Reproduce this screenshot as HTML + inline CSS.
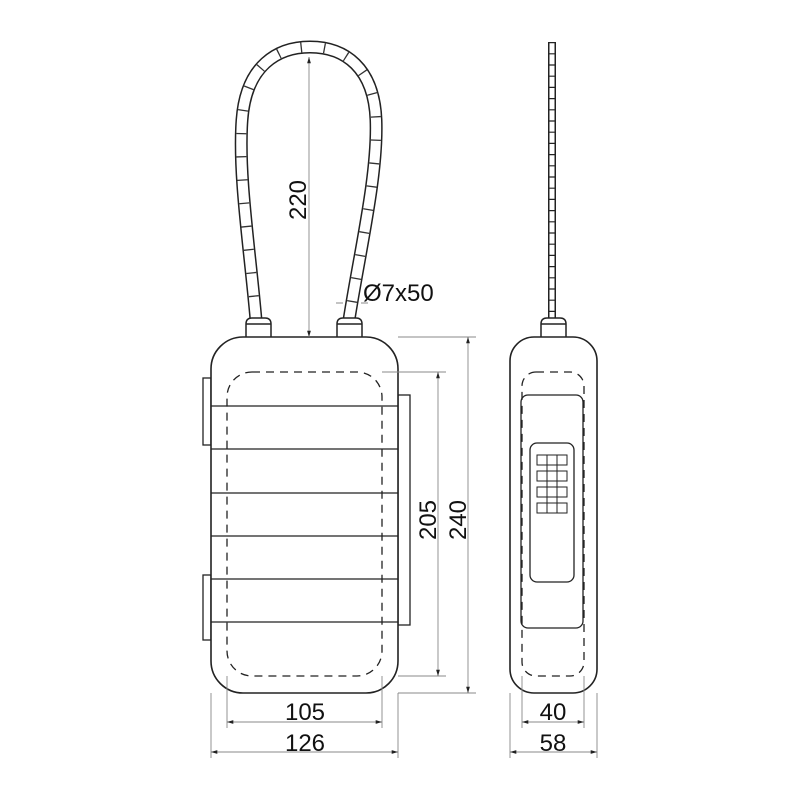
<!DOCTYPE html><html><head><style>body{margin:0;background:#fff}svg{display:block}text{font-family:"Liberation Sans",sans-serif;font-size:24px;fill:#111}</style></head><body>
<svg width="800" height="800" viewBox="0 0 800 800" xmlns="http://www.w3.org/2000/svg">
<defs><marker id="a" viewBox="0 0 10 10" refX="10" refY="5" markerWidth="7" markerHeight="7" orient="auto-start-reverse"><path d="M0,2 L10,5 L0,8z" fill="#222"/></marker></defs>
<g fill="none" stroke="#222">
<path d="M256,320 C250,250 238,175 242,120 C246,65 278,47 310,47 C345,47 374,68 376,120 C378,175 360,250 349,320" stroke-width="13"/>
<path d="M256,320 C250,250 238,175 242,120 C246,65 278,47 310,47 C345,47 374,68 376,120 C378,175 360,250 349,320" stroke="#fff" stroke-width="10"/>
<path d="M256,320 C250,250 238,175 242,120 C246,65 278,47 310,47 C345,47 374,68 376,120 C378,175 360,250 349,320" stroke-width="10" stroke-dasharray="1.3 22" stroke="#333"/>
<path d="M246,337 V324 Q246,318 252,318 H265 Q271,318 271,324 V337 M246,324 H271" stroke-width="1.5" fill="#fff"/>
<path d="M337,337 V324 Q337,318 343,318 H356 Q362,318 362,324 V337 M337,324 H362" stroke-width="1.5" fill="#fff"/>
<rect x="203" y="378" width="8" height="67" stroke-width="1.3"/>
<rect x="203" y="575" width="8" height="65" stroke-width="1.3"/>
<rect x="398" y="395" width="12" height="230" stroke-width="1.3"/>
<rect x="211" y="337" width="187" height="356" rx="32" stroke-width="1.6" fill="#fff"/>
<rect x="227" y="372" width="155" height="304" rx="25" stroke-width="1.3" stroke-dasharray="8 6"/>
<path d="M211,406 H398 M211,449 H398 M211,493 H398 M211,536 H398 M211,579 H398 M211,622 H398" stroke-width="1.3"/>
<path d="M552,42 V318" stroke-width="8"/>
<path d="M552,42 V318" stroke="#fff" stroke-width="5"/>
<path d="M552,42 V318" stroke-width="5" stroke-dasharray="1.2 10"/>
<path d="M541,337 V324 Q541,318 547,318 H560 Q566,318 566,324 V337 M541,324 H566" stroke-width="1.5" fill="#fff"/>
<rect x="510" y="337" width="87" height="356" rx="24" stroke-width="1.6" fill="#fff"/>
<rect x="522" y="372" width="62" height="304" rx="14" stroke-width="1.3" stroke-dasharray="8 6"/>
<rect x="521" y="395" width="62" height="233" rx="7" stroke-width="1.3"/>
<rect x="530" y="443" width="44" height="139" rx="7" stroke-width="1.3"/>
<g stroke-width="1"><rect x="537" y="455" width="30" height="10"/><rect x="537" y="471" width="30" height="10"/><rect x="537" y="487" width="30" height="10"/><rect x="537" y="503" width="30" height="10"/>
<path d="M547,455 V513 M557,455 V513"/></g>
<g stroke="#888" stroke-width="0.9">
<path d="M309,57 V337" marker-start="url(#a)" marker-end="url(#a)"/>
<path d="M382,372 H446 M398,337 H476 M398,676 H446 M398,693 H476"/>
<path d="M438,372 V676" marker-start="url(#a)" marker-end="url(#a)"/>
<path d="M468,337 V693" marker-start="url(#a)" marker-end="url(#a)"/>
<path d="M227,676 V728 M382,676 V728 M211,693 V758 M398,693 V758"/>
<path d="M227,722 H382" marker-start="url(#a)" marker-end="url(#a)"/>
<path d="M211,752 H398" marker-start="url(#a)" marker-end="url(#a)"/>
<path d="M522,676 V728 M584,676 V728 M510,693 V758 M597,693 V758"/>
<path d="M522,722 H584" marker-start="url(#a)" marker-end="url(#a)"/>
<path d="M510,752 H597" marker-start="url(#a)" marker-end="url(#a)"/>
<path d="M336,303 H343 M361,303 H368"/>
</g>
</g>
<text x="306" y="200" transform="rotate(-90 306 200)" text-anchor="middle">220</text>
<text x="363" y="301">Ø7x50</text>
<text x="436" y="520" transform="rotate(-90 436 520)" text-anchor="middle">205</text>
<text x="466" y="520" transform="rotate(-90 466 520)" text-anchor="middle">240</text>
<text x="305" y="720" text-anchor="middle">105</text>
<text x="305" y="751" text-anchor="middle">126</text>
<text x="553" y="720" text-anchor="middle">40</text>
<text x="553" y="751" text-anchor="middle">58</text>
</svg></body></html>
